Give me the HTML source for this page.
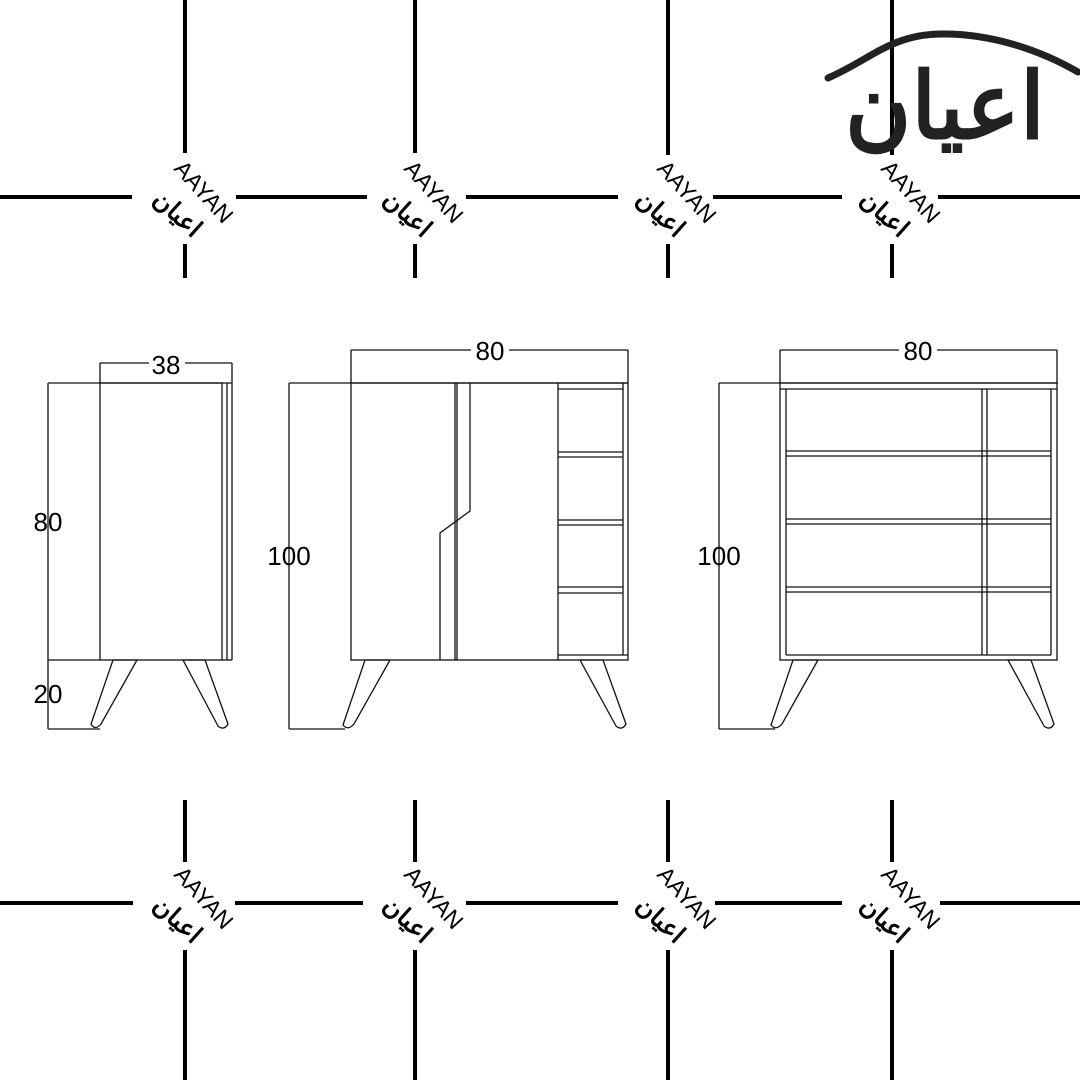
<!DOCTYPE html>
<html><head><meta charset="utf-8"><style>
html,body{margin:0;padding:0;background:#fff;}
svg{display:block;}
text{font-family:"Liberation Sans","Noto Sans CJK SC",sans-serif;}
</style></head><body>
<svg width="1080" height="1080" viewBox="0 0 1080 1080" xmlns="http://www.w3.org/2000/svg">
<rect width="1080" height="1080" fill="#fff"/>
<g stroke="#000" stroke-width="4">
<line x1="0" y1="197" x2="132" y2="197"/><line x1="236" y1="197" x2="367" y2="197"/>
<line x1="466" y1="197" x2="618" y2="197"/><line x1="713" y1="197" x2="842" y2="197"/>
<line x1="938" y1="197" x2="1080" y2="197"/>
<line x1="185" y1="0" x2="185" y2="153"/><line x1="185" y1="244" x2="185" y2="278"/>
<line x1="415" y1="0" x2="415" y2="153"/><line x1="415" y1="244" x2="415" y2="278"/>
<line x1="668" y1="0" x2="668" y2="155"/><line x1="668" y1="244" x2="668" y2="278"/>
<line x1="892" y1="0" x2="892" y2="155"/><line x1="892" y1="244" x2="892" y2="278"/>
<line x1="0" y1="903" x2="133" y2="903"/><line x1="235" y1="903" x2="363" y2="903"/>
<line x1="466" y1="903" x2="618" y2="903"/><line x1="715" y1="903" x2="842" y2="903"/>
<line x1="940" y1="903" x2="1080" y2="903"/>
<line x1="185" y1="800" x2="185" y2="862"/><line x1="185" y1="950" x2="185" y2="1080"/>
<line x1="415" y1="800" x2="415" y2="862"/><line x1="415" y1="950" x2="415" y2="1080"/>
<line x1="668" y1="800" x2="668" y2="862"/><line x1="668" y1="950" x2="668" y2="1080"/>
<line x1="892" y1="800" x2="892" y2="862"/><line x1="892" y1="950" x2="892" y2="1080"/>
</g>
<g font-size="23" fill="#000">
<g transform="translate(198,197) rotate(48)"><text text-anchor="middle">AAYAN</text></g>
<g transform="translate(428,197) rotate(48)"><text text-anchor="middle">AAYAN</text></g>
<g transform="translate(681,197) rotate(48)"><text text-anchor="middle">AAYAN</text></g>
<g transform="translate(905,197) rotate(48)"><text text-anchor="middle">AAYAN</text></g>
<g transform="translate(198,903) rotate(48)"><text text-anchor="middle">AAYAN</text></g>
<g transform="translate(428,903) rotate(48)"><text text-anchor="middle">AAYAN</text></g>
<g transform="translate(681,903) rotate(48)"><text text-anchor="middle">AAYAN</text></g>
<g transform="translate(905,903) rotate(48)"><text text-anchor="middle">AAYAN</text></g>
</g>
<g font-size="25" font-weight="bold" fill="#000" font-family="DejaVu Sans, sans-serif">
<g transform="translate(172,220) rotate(42)"><text text-anchor="middle">اعيان</text></g>
<g transform="translate(402,220) rotate(42)"><text text-anchor="middle">اعيان</text></g>
<g transform="translate(655,220) rotate(42)"><text text-anchor="middle">اعيان</text></g>
<g transform="translate(879,220) rotate(42)"><text text-anchor="middle">اعيان</text></g>
<g transform="translate(172,926) rotate(42)"><text text-anchor="middle">اعيان</text></g>
<g transform="translate(402,926) rotate(42)"><text text-anchor="middle">اعيان</text></g>
<g transform="translate(655,926) rotate(42)"><text text-anchor="middle">اعيان</text></g>
<g transform="translate(879,926) rotate(42)"><text text-anchor="middle">اعيان</text></g>
</g>
<path d="M828 78 C 870 60, 890 35, 940 34 C 990 33, 1040 50, 1078 72" fill="none" stroke="#222" stroke-width="7" stroke-linecap="round"/>
<text x="945" y="138" font-size="92" font-weight="bold" fill="#222" text-anchor="middle" font-family="DejaVu Sans, sans-serif" textLength="200" lengthAdjust="spacingAndGlyphs">اعيان</text>

<g stroke="#111" stroke-width="1.3" fill="none">
<line x1="48" y1="383" x2="48" y2="729"/><line x1="48" y1="383" x2="232" y2="383"/>
<line x1="48" y1="729" x2="100" y2="729"/><line x1="48" y1="660" x2="100" y2="660"/>
<line x1="100" y1="363" x2="232" y2="363"/><line x1="100" y1="363" x2="100" y2="383"/><line x1="232" y1="363" x2="232" y2="383"/>
<rect x="100" y="383" width="122" height="277"/>
<line x1="227" y1="383" x2="227" y2="660"/><line x1="232" y1="383" x2="232" y2="660"/><line x1="222" y1="660" x2="232" y2="660"/>
<path d="M113 660 L137 660 L101 724 Q95 731 91 724 Z"/>
<path d="M183 660 L205 660 L228 724 Q224 731 218 726 Z"/>
<line x1="289" y1="383" x2="289" y2="729"/><line x1="289" y1="383" x2="628" y2="383"/>
<line x1="289" y1="729" x2="345" y2="729"/>
<line x1="351" y1="350" x2="628" y2="350"/><line x1="351" y1="350" x2="351" y2="383"/><line x1="628" y1="350" x2="628" y2="383"/>
<rect x="351" y="383" width="277" height="277"/>
<line x1="455" y1="383" x2="455" y2="660"/><line x1="457" y1="383" x2="457" y2="660"/>
<polyline points="470,383 470,511 440,533 440,660"/>
<line x1="558" y1="383" x2="558" y2="660"/><line x1="623" y1="383" x2="623" y2="655"/>
<line x1="558" y1="389" x2="623" y2="389"/>
<line x1="558" y1="452" x2="623" y2="452"/><line x1="558" y1="457" x2="623" y2="457"/>
<line x1="558" y1="520" x2="623" y2="520"/><line x1="558" y1="525" x2="623" y2="525"/>
<line x1="558" y1="587" x2="623" y2="587"/><line x1="558" y1="593" x2="623" y2="593"/>
<line x1="558" y1="655" x2="628" y2="655"/>
<path d="M365 660 L390 660 L354 724 Q348 731 343 725 Z"/>
<path d="M580 660 L603 660 L626 724 Q622 731 616 726 Z"/>
<line x1="719" y1="383" x2="719" y2="729"/><line x1="719" y1="383" x2="1058" y2="383"/>
<line x1="719" y1="729" x2="775" y2="729"/>
<line x1="780" y1="350" x2="1057" y2="350"/><line x1="780" y1="350" x2="780" y2="383"/><line x1="1057" y1="350" x2="1057" y2="383"/>
<rect x="780" y="383" width="277" height="277"/>
<line x1="780" y1="389" x2="1057" y2="389"/>
<line x1="786" y1="389" x2="786" y2="655"/><line x1="1051" y1="389" x2="1051" y2="655"/>
<line x1="982" y1="389" x2="982" y2="655"/><line x1="987" y1="389" x2="987" y2="655"/>
<line x1="786" y1="451" x2="1051" y2="451"/><line x1="786" y1="456" x2="1051" y2="456"/>
<line x1="786" y1="519" x2="1051" y2="519"/><line x1="786" y1="524" x2="1051" y2="524"/>
<line x1="786" y1="587" x2="1051" y2="587"/><line x1="786" y1="592" x2="1051" y2="592"/>
<line x1="786" y1="655" x2="1051" y2="655"/>
<path d="M793 660 L818 660 L782 724 Q776 731 771 725 Z"/>
<path d="M1008 660 L1031 660 L1054 724 Q1050 731 1044 726 Z"/>
</g>
<g font-size="26" fill="#000" text-anchor="middle">
<rect x="149" y="352" width="36" height="22" fill="#fff"/>
<text x="166" y="374">38</text>
<rect x="471" y="340" width="38" height="22" fill="#fff"/>
<text x="490" y="360">80</text>
<rect x="899" y="340" width="38" height="22" fill="#fff"/>
<text x="918" y="360">80</text>
<text x="48" y="531">80</text>
<text x="48" y="703">20</text>
<text x="289" y="565">100</text>
<text x="719" y="565">100</text>
</g>
</svg>
</body></html>
